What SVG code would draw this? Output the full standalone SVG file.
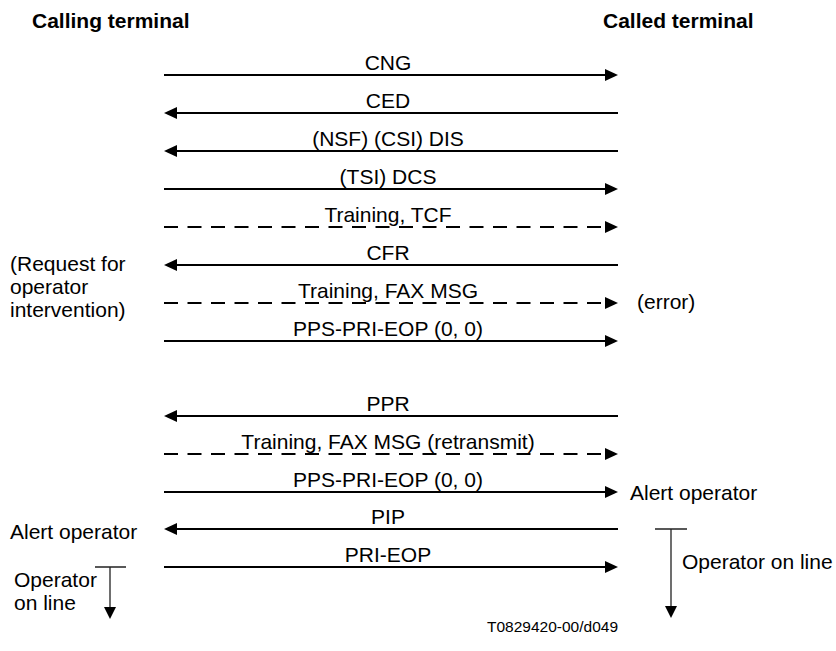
<svg xmlns="http://www.w3.org/2000/svg" width="836" height="651" viewBox="0 0 836 651">
<style>
text{font-family:"Liberation Sans",Arial,sans-serif;font-size:21px;fill:#000}
.h{font-weight:bold}
.c{text-anchor:middle}
.f{font-size:15.5px}
.m{stroke:#000;stroke-width:2;fill:none}
.d{stroke-dasharray:14 9.5}
.t{stroke:#222;stroke-width:1.3;fill:none}
</style>
<defs>
<marker id="a" markerUnits="userSpaceOnUse" markerWidth="14" markerHeight="13" refX="0" refY="6" orient="auto"><path d="M0,0L13,6L0,12z" fill="#000"/></marker>
</defs>
<rect width="836" height="651" fill="#fff"/>
<g id="calling"><text class="h" x="32" y="28">Calling terminal</text></g>
<g id="called"><text class="h" x="603" y="28">Called terminal</text></g>
<g id="connectors">
<path class="m" d="M164,75H605" marker-end="url(#a)"/>
<path class="m" d="M618,113H177" marker-end="url(#a)"/>
<path class="m" d="M618,151H177" marker-end="url(#a)"/>
<path class="m" d="M164,189H605" marker-end="url(#a)"/>
<path class="m d" d="M164,227H605" marker-end="url(#a)"/>
<path class="m" d="M618,265H177" marker-end="url(#a)"/>
<path class="m d" d="M164,303H605" marker-end="url(#a)"/>
<path class="m" d="M164,341H605" marker-end="url(#a)"/>
<path class="m" d="M618,416H177" marker-end="url(#a)"/>
<path class="m d" d="M164,454H605" marker-end="url(#a)"/>
<path class="m" d="M164,492H605" marker-end="url(#a)"/>
<path class="m" d="M618,529H177" marker-end="url(#a)"/>
<path class="m" d="M164,567H605" marker-end="url(#a)"/>
<path class="t" d="M95,567H126M110,567V607"/>
<path d="M104,607L116,607L110,619z" fill="#000"/>
<path class="t" d="M655,529H687M671,529V607"/>
<path d="M665,606L677,606L671,618z" fill="#000"/>
</g>
<g id="labels">
<text class="c" x="388" y="70">CNG</text>
<text class="c" x="388" y="108">CED</text>
<text class="c" x="388" y="146">(NSF) (CSI) DIS</text>
<text class="c" x="388" y="184">(TSI) DCS</text>
<text class="c" x="388" y="222">Training, TCF</text>
<text class="c" x="388" y="260">CFR</text>
<text class="c" x="388" y="298">Training, FAX MSG</text>
<text class="c" x="388" y="336">PPS-PRI-EOP (0, 0)</text>
<text class="c" x="388" y="411">PPR</text>
<text class="c" x="388" y="449">Training, FAX MSG (retransmit)</text>
<text class="c" x="388" y="487">PPS-PRI-EOP (0, 0)</text>
<text class="c" x="388" y="524">PIP</text>
<text class="c" x="388" y="562">PRI-EOP</text>
</g>
<g id="notes">
<text x="10" y="271">(Request for</text>
<text x="10" y="294">operator</text>
<text x="10" y="317">intervention)</text>
<text x="637" y="309">(error)</text>
<text x="630" y="500">Alert operator</text>
<text x="10" y="539">Alert operator</text>
<text x="14" y="587">Operator</text>
<text x="14" y="610">on line</text>
<text x="682" y="569">Operator on line</text>
<text class="f" x="487" y="632">T0829420-00/d049</text>
</g>
</svg>
